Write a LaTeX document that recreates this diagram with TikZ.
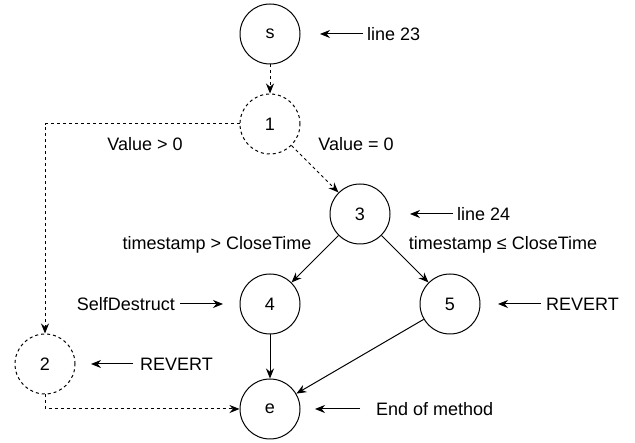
\documentclass[tikz,border=0pt]{standalone}
\usepackage{fontspec}
\setmainfont{Liberation Sans}
\usetikzlibrary{arrows.meta}

\begin{document}
\begin{tikzpicture}[x=1pt,y=-1pt,
  state/.style={draw, circle, minimum size=60pt, inner sep=0pt, line width=1pt, font=\fontsize{18}{21}\selectfont},
  dstate/.style={state, dash pattern=on 3pt off 3pt},
  flow/.style={-{Stealth[length=10pt,width=8pt]}, line width=1pt},
  dflow/.style={flow, dash pattern=on 3pt off 3pt},
  note/.style={inner sep=0pt, font=\fontsize{18}{21}\selectfont}]
  \useasboundingbox (0,0) rectangle (635,443);

  % states
  \node[state] (s) at (270,34) {s};
  \node[dstate] (n1) at (270,124) {1};
  \node[dstate] (n2) at (45,364) {2};
  \node[state] (n3) at (360,214) {3};
  \node[state] (n4) at (270,304) {4};
  \node[state] (n5) at (450,304) {5};
  \node[state] (e) at (270,409) {e};

  % edges
  \draw[dflow] (s) -- (n1);
  \draw[dflow] (n1) -- (n3);
  \draw[dflow] (n1.west) -| (n2.north);
  \draw[dflow] (n2.south) |- (e.west);
  \draw[flow] (n3) -- (n4);
  \draw[flow] (n3) -- (n5);
  \draw[flow] (n4) -- (e);
  \draw[flow] (n5) -- (e);

  % conditions
  \node[note] (vgt) at (145,144) {Value > 0};
  \node[note] (veq) at (356,144) {Value = 0};
  \node[note] (tgt) at (217,245) {timestamp > CloseTime};
  \node[note] (tle) at (503,245) {timestamp ≤ CloseTime};

  % remarks
  \node[note, anchor=west] (l23) at (367,34) {line 23};
  \node[note, anchor=west] (l24) at (457,214) {line 24};
  \node[note, anchor=east] (sd) at (175,304) {SelfDestruct};
  \node[note, anchor=west] (rv5) at (546,304) {REVERT};
  \node[note, anchor=west] (rv2) at (140,364) {REVERT};
  \node[note, anchor=west] (eom) at (376,409) {End of method};
  \coordinate (l23tip) at (320,34);
  \coordinate (l24tip) at (410,214);
  \coordinate (sdtip) at (223,304);
  \coordinate (rv5tip) at (498,304);
  \coordinate (rv2tip) at (91,364);
  \coordinate (eomtip) at (315,409);
  \draw[flow, shorten <=4pt] (l23) -- (l23tip);
  \draw[flow, shorten <=4pt] (l24) -- (l24tip);
  \draw[flow, shorten <=5pt] (sd) -- (sdtip);
  \draw[flow, shorten <=5pt] (rv5) -- (rv5tip);
  \draw[flow, shorten <=7pt] (rv2) -- (rv2tip);
  \draw[flow, shorten <=16pt] (eom) -- (eomtip);
\end{tikzpicture}
\end{document}
